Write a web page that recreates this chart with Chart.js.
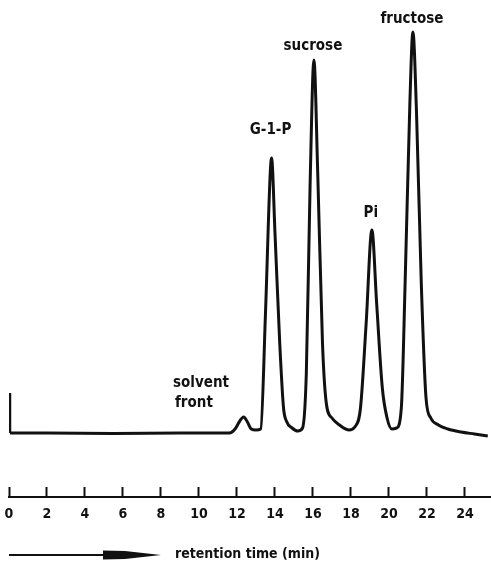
<!DOCTYPE html>
<html>
<head>
<meta charset="utf-8">
<script src="https://cdn.jsdelivr.net/npm/chart.js@4/dist/chart.umd.min.js"></script>
<style>
  html, body { margin: 0; padding: 0; background: #fff; }
  canvas { display: block; }
</style>
</head>
<body>
<canvas id="chrom" width="491" height="561"></canvas>
<script>
// retention time (min) and detector signal
const times = [
  0.05, 2.0, 5.5, 9.0, 11.6, 11.9, 12.15, 12.35, 12.55, 12.75, 13.0, 13.25,
  13.5, 13.75, 13.82, 14.0, 14.25, 14.45, 14.6, 14.9, 15.2, 15.45,
  15.65, 15.85, 16.05, 16.25, 16.5, 16.7, 17.0, 17.4, 17.9, 18.2,
  18.5, 18.8, 19.1, 19.35, 19.65, 19.9, 20.15, 20.4,
  20.65, 20.85, 21.1, 21.26, 21.45, 21.7, 21.95, 22.2, 22.6, 23.1, 23.8, 24.5, 25.2,
];
const signal = [
  0, 0, -0.5, 0, 0, 4, 12, 16, 11, 4, 3, 4,
  120, 260, 275, 200, 90, 25, 12, 5, 2, 5,
  60, 250, 373, 260, 90, 30, 15, 8, 3, 6,
  25, 110, 203, 130, 45, 15, 4, 5,
  25, 150, 330, 401, 320, 150, 35, 15, 8, 4, 1, -1, -3,
];

// injection mark at the start of the run
const injectTimes = [0.05, 0.05];
const injectSignal = [40, 0];

const peakNames = ["G-1-P", "sucrose", "Pi", "fructose"];
const peakTimes = [13.82, 16.05, 19.1, 21.26];
const peakHeights = [275, 373, 203, 401];

const tickValues = [0, 2, 4, 6, 8, 10, 12, 14, 16, 18, 20, 22, 24];
const axisTitle = "retention time (min)";
const solventLabel = ["solvent", "front"];

const ink = "#111";
const labelFont = 'bold 15px "DejaVu Sans Condensed", "DejaVu Sans", sans-serif';

const trace = times.map((t, i) => ({ x: t, y: signal[i] }));
const inject = injectTimes.map((t, i) => ({ x: t, y: injectSignal[i] }));

// peak names, solvent front note and the arrow under the axis
const notes = {
  id: "notes",
  afterDraw(chart) {
    const { ctx } = chart;
    const xs = chart.scales.x;
    const ys = chart.scales.y;
    const lift = [28, 14, 17, 13];
    ctx.save();
    ctx.fillStyle = ink;
    ctx.font = labelFont;
    ctx.textAlign = "center";
    ctx.textBaseline = "middle";
    peakNames.forEach((name, i) => {
      const px = xs.getPixelForValue(peakTimes[i]) - 1;
      const py = ys.getPixelForValue(peakHeights[i]) - lift[i];
      ctx.fillText(name, px, py);
    });

    ctx.textAlign = "left";
    ctx.fillText(solventLabel[0], 173, 383);
    ctx.fillText(solventLabel[1], 175, 403);

    // arrow
    const ay = 555;
    ctx.strokeStyle = ink;
    ctx.lineWidth = 2;
    ctx.beginPath();
    ctx.moveTo(xs.left, ay);
    ctx.lineTo(106, ay);
    ctx.stroke();
    ctx.beginPath();
    ctx.moveTo(103, ay - 4.5);
    ctx.lineTo(125, ay - 4);
    ctx.lineTo(161, ay);
    ctx.lineTo(125, ay + 4);
    ctx.lineTo(103, ay + 4.5);
    ctx.closePath();
    ctx.fill();

    ctx.font = 'bold 14px "DejaVu Sans Condensed", "DejaVu Sans", sans-serif';
    ctx.fillText(axisTitle, 175, ay - 1);
    ctx.restore();
  },
};

new Chart(document.getElementById("chrom"), {
  type: "line",
  data: {
    datasets: [
      {
        label: "signal",
        data: trace,
        borderColor: ink,
        borderWidth: 3,
        pointRadius: 0,
        fill: false,
        cubicInterpolationMode: "monotone",
      },
      {
        label: "injection",
        data: inject,
        borderColor: ink,
        borderWidth: 2.6,
        pointRadius: 0,
        fill: false,
      },
    ],
  },
  options: {
    responsive: false,
    animation: false,
    events: [],
    layout: { padding: { left: 9, right: 0, top: 0, bottom: 0 } },
    plugins: { legend: { display: false }, tooltip: { enabled: false } },
    scales: {
      x: {
        type: "linear",
        min: 0,
        max: 25.37,
        afterBuildTicks: (scale) => {
          scale.ticks = tickValues.map((v) => ({ value: v }));
        },
        afterFit: (scale) => {
          scale.height = 64;
          scale.paddingLeft = 0;
          scale.paddingRight = 0;
        },
        border: { display: true, color: ink, width: 2 },
        grid: {
          drawOnChartArea: false,
          drawTicks: true,
          tickLength: -10,
          tickWidth: 2,
          tickColor: ink,
        },
        ticks: {
          color: ink,
          padding: 19,
          maxRotation: 0,
          autoSkip: false,
          font: { family: '"DejaVu Sans Condensed", "DejaVu Sans", sans-serif', size: 14, weight: "bold" },
        },
      },
      y: {
        display: false,
        min: -64,
        max: 433,
      },
    },
  },
  plugins: [notes],
});
</script>
</body>
</html>
